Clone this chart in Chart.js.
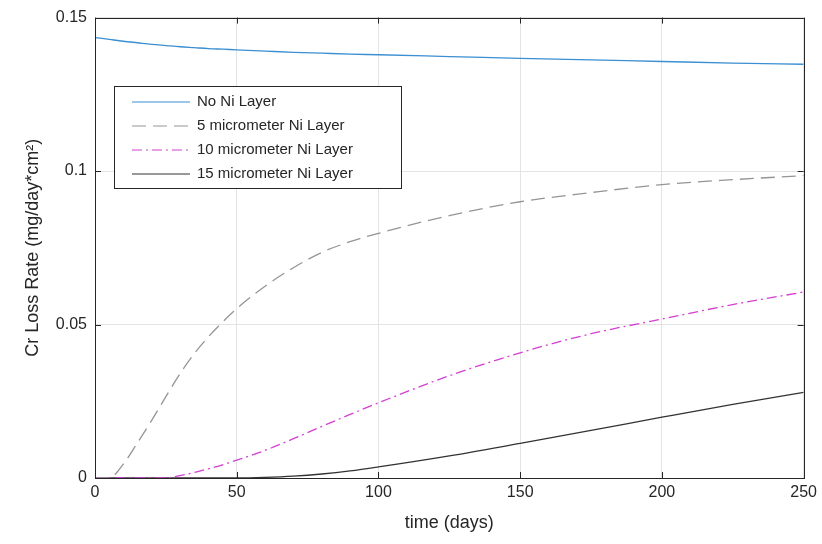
<!DOCTYPE html>
<html>
<head>
<meta charset="utf-8">
<script src="https://cdn.jsdelivr.net/npm/chart.js@4/dist/chart.umd.min.js"></script>
<style>
  html, body { margin: 0; padding: 0; background: #fff; }
  #wrap { width: 822px; height: 544px; }
</style>
</head>
<body>
<div id="wrap"><canvas id="myChart" width="822" height="544"></canvas></div>
<script>
// datos
const dias = [0, 5, 10, 15, 20, 25, 30, 35, 40, 45, 50, 60, 70, 80, 90, 100, 125, 150, 175, 200, 225, 250];

const sinNi = [0.1435, 0.1429, 0.1423, 0.1418, 0.1413, 0.1409, 0.1405, 0.1402, 0.1399, 0.1397, 0.1395,
  0.1391, 0.1387, 0.1384, 0.1381, 0.1379, 0.1373, 0.1367, 0.1362, 0.1357, 0.1352, 0.1348];
const ni5 = [0, 0, 0.0045, 0.0115, 0.0188, 0.0265, 0.034, 0.0405, 0.046, 0.0508, 0.0552,
  0.0625, 0.0685, 0.0735, 0.077, 0.0797, 0.0855, 0.0900, 0.0930, 0.0956, 0.0972, 0.0985];
const ni10 = [0, 0, 0, 0, 0, 0, 0.0008, 0.0018, 0.003, 0.0043, 0.0058,
  0.009, 0.0128, 0.0168, 0.0207, 0.0245, 0.0333, 0.0408, 0.047, 0.0518, 0.0565, 0.0606];
const ni15 = [0, 0, 0, 0, 0, 0, 0, 0, 0, 0, 0,
  0.0002, 0.0006, 0.0013, 0.0023, 0.0036, 0.0072, 0.0113, 0.0155, 0.0198, 0.024, 0.0279];

const etiquetas = ['No Ni Layer', '5 micrometer Ni Layer', '10 micrometer Ni Layer', '15 micrometer Ni Layer'];
const ticksX = [0, 50, 100, 150, 200, 250];
const ticksY = [0, 0.05, 0.1, 0.15];

const fuente = '"Liberation Sans", Arial, sans-serif';
const colorTexto = '#262626';

const puntos = (vals) => dias.map((d, i) => ({ x: d, y: vals[i] }));

const series = [
  { label: etiquetas[0], data: puntos(sinNi), borderColor: '#3b8fd2', borderDash: [] },
  { label: etiquetas[1], data: puntos(ni5), borderColor: '#959595', borderDash: [14, 7] },
  { label: etiquetas[2], data: puntos(ni10), borderColor: '#d43fd4', borderDash: [10, 4, 2, 4] },
  { label: etiquetas[3], data: puntos(ni15), borderColor: '#333333', borderDash: [] }
];

// caja, marcas y leyenda al estilo matlab
const cajaPlugin = {
  id: 'caja',
  afterDraw(chart) {
    const ctx = chart.ctx;
    const a = chart.chartArea;
    const sx = chart.scales.x, sy = chart.scales.y;
    ctx.save();
    ctx.strokeStyle = '#262626';
    ctx.lineWidth = 1;
    ctx.strokeRect(Math.round(a.left) + 0.5, Math.round(a.top) + 0.5,
      Math.round(a.right - a.left), Math.round(a.bottom - a.top));

    // marcas hacia dentro
    ctx.beginPath();
    ticksX.forEach(v => {
      const px = Math.round(sx.getPixelForValue(v)) + 0.5;
      ctx.moveTo(px, a.bottom); ctx.lineTo(px, a.bottom - 6);
      ctx.moveTo(px, a.top); ctx.lineTo(px, a.top + 6);
    });
    ticksY.forEach(v => {
      const py = Math.round(sy.getPixelForValue(v)) + 0.5;
      ctx.moveTo(a.left, py); ctx.lineTo(a.left + 6, py);
      ctx.moveTo(a.right, py); ctx.lineTo(a.right - 6, py);
    });
    ctx.stroke();

    // leyenda
    const lx = 114, ly = 86, lw = 287, lh = 102;
    ctx.fillStyle = '#fff';
    ctx.fillRect(lx, ly, lw, lh);
    ctx.strokeRect(lx + 0.5, ly + 0.5, lw, lh);
    ctx.font = '15px ' + fuente;
    ctx.textBaseline = 'middle';
    chart.data.datasets.forEach((ds, i) => {
      const y = ly + 16 + i * 24;
      ctx.beginPath();
      ctx.strokeStyle = ds.borderColor;
      ctx.lineWidth = 1.2;
      ctx.setLineDash(ds.borderDash);
      ctx.moveTo(132, y);
      ctx.lineTo(190, y);
      ctx.stroke();
      ctx.setLineDash([]);
      ctx.fillStyle = colorTexto;
      ctx.fillText(ds.label, 197, y);
    });
    ctx.restore();
  }
};

const config = {
  type: 'line',
  data: {
    datasets: series.map(s => ({
      label: s.label,
      data: s.data,
      borderColor: s.borderColor,
      borderDash: s.borderDash,
      borderWidth: 1.3,
      pointRadius: 0,
      cubicInterpolationMode: 'monotone',
      fill: false
    }))
  },
  options: {
    responsive: false,
    animation: false,
    layout: { padding: { top: 15, right: 17, left: 0, bottom: 0 } },
    plugins: { legend: { display: false }, tooltip: { enabled: false } },
    scales: {
      x: {
        type: 'linear',
        min: 0, max: 250,
        afterBuildTicks: (s) => { s.ticks = ticksX.map(v => ({ value: v })); },
        ticks: { color: colorTexto, font: { family: fuente, size: 16 }, padding: 5, maxRotation: 0 },
        grid: { color: '#e3e3e3', drawTicks: false },
        border: { display: false },
        title: { display: true, text: 'time (days)', color: colorTexto, font: { family: fuente, size: 18 }, padding: { top: 0, bottom: 10 } },
        afterFit: (s) => { s.height = 66; }
      },
      y: {
        min: 0, max: 0.15,
        afterBuildTicks: (s) => { s.ticks = ticksY.map(v => ({ value: v })); },
        ticks: { color: colorTexto, font: { family: fuente, size: 16 }, padding: 8,
          callback: (v) => String(Math.round(v * 100) / 100) },
        grid: { color: '#e3e3e3', drawTicks: false },
        border: { display: false },
        title: { display: true, text: 'Cr Loss Rate (mg/day*cm\u00B2)', color: colorTexto, font: { family: fuente, size: 18 }, padding: { top: 22, bottom: 0 } },
        afterFit: (s) => { s.width = 95; }
      }
    }
  },
  plugins: [cajaPlugin]
};

const myChart = new Chart(document.getElementById('myChart'), config);
</script>
</body>
</html>
